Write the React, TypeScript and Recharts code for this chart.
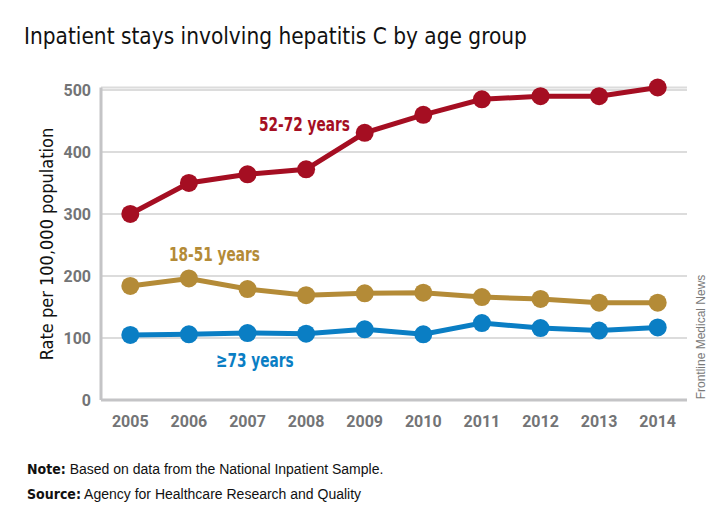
import { LineChart, Line, XAxis, YAxis, CartesianGrid } from "recharts";

// --- data ---
const years = ["2005", "2006", "2007", "2008", "2009", "2010", "2011", "2012", "2013", "2014"];
const age52to72 = [300, 350, 364, 372, 431, 460, 485, 490, 490, 504];
const age18to51 = [184, 196, 179, 169, 172, 173, 166, 163, 157, 157];
const age73plus = [105, 106, 108, 107, 114, 106, 124, 116, 112, 117];
const yTicks = [0, 100, 200, 300, 400, 500];

const rows = years.map((year, i) => ({
  year,
  mid: age52to72[i],
  young: age18to51[i],
  old: age73plus[i],
}));

const RED = "#a50e22";
const GOLD = "#b48b37";
const BLUE = "#0a7ec4";
const TICK_GRAY = "#737476";
const COND = "'DejaVu Sans Condensed', 'DejaVu Sans', sans-serif";

const seriesLabel = (color: string): React.CSSProperties => ({
  position: "absolute",
  fontFamily: COND,
  fontWeight: 700,
  fontSize: 20,
  color,
  whiteSpace: "nowrap",
  lineHeight: 1,
  transform: "scaleX(0.76)",
  transformOrigin: "left top",
});

export default function App() {
  return (
    <div style={{ position: "absolute", left: 0, top: 0, width: 720, height: 528, background: "#fff", overflow: "hidden" }}>
      <div
        style={{
          position: "absolute",
          left: 24,
          top: 25,
          fontFamily: COND,
          fontSize: 23,
          color: "#111",
          whiteSpace: "nowrap",
          lineHeight: 1,
          transform: "scaleX(0.975)",
          transformOrigin: "left top",
        }}
      >
        Inpatient stays involving hepatitis C by age group
      </div>

      <LineChart width={720} height={528} data={rows} margin={{ top: 87.5, right: 33, bottom: 98, left: 41 }}>
        <CartesianGrid vertical={false} stroke="#dcdcdc" strokeWidth={2} />
        <XAxis
          dataKey="year"
          scale="band"
          height={30}
          axisLine={{ stroke: "#c4c4c6", strokeWidth: 3 }}
          tickLine={false}
          tick={{ fill: TICK_GRAY, fontSize: 16, fontWeight: 700, fontFamily: "Roboto, sans-serif" }}
          tickMargin={10}
        />
        <YAxis
          width={60}
          domain={[0, 500]}
          ticks={yTicks}
          axisLine={{ stroke: "#c4c4c6", strokeWidth: 3 }}
          tickLine={false}
          tick={{ fill: TICK_GRAY, fontSize: 16, fontWeight: 700, fontFamily: "Roboto, sans-serif" }}
          tickMargin={4}
        />
        <Line dataKey="mid" stroke={RED} strokeWidth={5} dot={{ r: 9, fill: RED, stroke: "none" }} isAnimationActive={false} />
        <Line dataKey="young" stroke={GOLD} strokeWidth={5} dot={{ r: 9, fill: GOLD, stroke: "none" }} isAnimationActive={false} />
        <Line dataKey="old" stroke={BLUE} strokeWidth={5} dot={{ r: 9, fill: BLUE, stroke: "none" }} isAnimationActive={false} />
      </LineChart>

      <div style={{ ...seriesLabel(RED), left: 259, top: 114 }}>52-72 years</div>
      <div style={{ ...seriesLabel(GOLD), left: 169, top: 244 }}>18-51 years</div>
      <div style={{ ...seriesLabel(BLUE), left: 216, top: 350 }}>≥73 years</div>

      <div
        style={{
          position: "absolute",
          left: 47,
          top: 244,
          transform: "translate(-50%, -50%) rotate(-90deg)",
          fontFamily: COND,
          fontSize: 18,
          color: "#111",
          whiteSpace: "nowrap",
          lineHeight: 1,
        }}
      >
        Rate per 100,000 population
      </div>

      <div
        style={{
          position: "absolute",
          left: 701,
          top: 337,
          transform: "translate(-50%, -50%) rotate(-90deg)",
          fontFamily: "'Liberation Sans', Arial, sans-serif",
          fontSize: 12,
          color: "#7a7a7a",
          whiteSpace: "nowrap",
          lineHeight: 1,
        }}
      >
        Frontline Medical News
      </div>

      <div style={{ position: "absolute", left: 27, top: 462, fontFamily: "'Liberation Sans', Arial, sans-serif", fontSize: 14, color: "#111", whiteSpace: "nowrap", lineHeight: 1 }}>
        <span style={{ fontFamily: COND, fontWeight: 700 }}>Note:</span> Based on data from the National Inpatient Sample.
      </div>
      <div style={{ position: "absolute", left: 27, top: 487, fontFamily: "'Liberation Sans', Arial, sans-serif", fontSize: 14, color: "#111", whiteSpace: "nowrap", lineHeight: 1 }}>
        <span style={{ fontFamily: COND, fontWeight: 700 }}>Source:</span> Agency for Healthcare Research and Quality
      </div>
    </div>
  );
}
